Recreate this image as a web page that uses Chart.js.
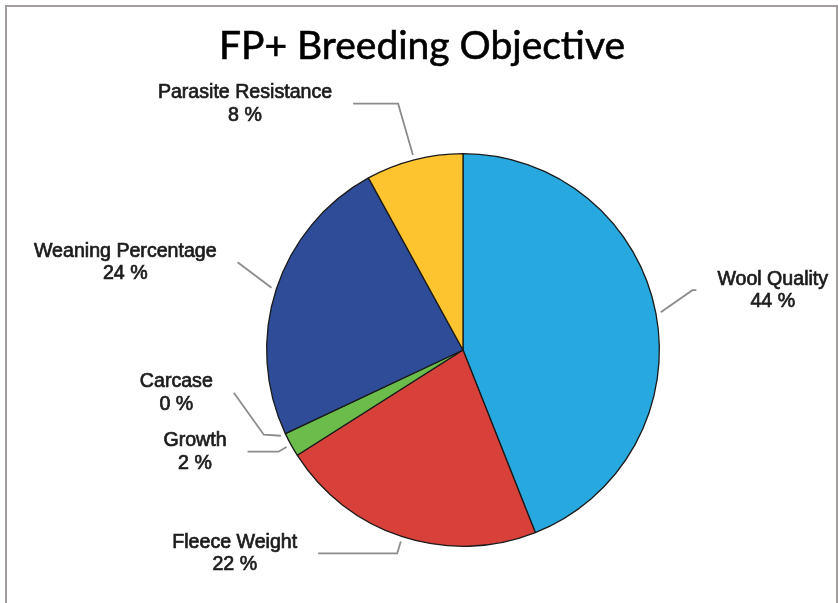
<!DOCTYPE html>
<html><head><meta charset="utf-8">
<script src="https://cdn.jsdelivr.net/npm/chart.js@4"></script>
<style>html,body{margin:0;padding:0;background:#fff}canvas{display:block}</style>
</head><body>
<canvas id="c" width="838" height="603"></canvas>
<script>
const chartTitle = 'FP+ Breeding Objective';
const categories = ['Wool Quality', 'Fleece Weight', 'Growth', 'Carcase', 'Weaning Percentage', 'Parasite Resistance'];
const shares = [44, 22, 2, 0, 24, 8];
const sliceColors = ['#27A8DF', '#D8413A', '#6BBC4A', '#8A8A8A', '#2E4C98', '#FDC42F'];

// leader-line layout: offsets (px) from the point just outside each slice's mid-edge
const leaderPaths = [
  [[31.6, -22.1], [35.6, -22.1]],
  [[-3.6, 11.9], [-82.6, 11.9]],
  [[-8, 4.7], [-39, 4.7]],
  [[-17, -1], [-47, -43]],
  [[-33.9, -25.6]],
  [[-14.8, -51.3], [-59.8, -51.3]]
];
const labelSide = ['right', 'left', 'left', 'left', 'left', 'left'];

const pieLabels = {
  id: 'pieLabels',
  beforeDraw(chart) {
    const ctx = chart.ctx;
    ctx.save();
    ctx.fillStyle = '#fff';
    ctx.fillRect(0, 0, chart.width, chart.height);
    ctx.strokeStyle = '#a39d9d';
    ctx.lineWidth = 2;
    ctx.beginPath();
    ctx.moveTo(6, chart.height);
    ctx.lineTo(6, 6);
    ctx.lineTo(837, 6);
    ctx.lineTo(837, chart.height);
    ctx.stroke();
    ctx.restore();
  },
  afterDatasetsDraw(chart) {
    const ctx = chart.ctx;
    const meta = chart.getDatasetMeta(0);
    ctx.save();
    ctx.font = '39px Lato';
    ctx.fillStyle = '#000';
    ctx.strokeStyle = '#000';
    ctx.lineWidth = 0.6;
    ctx.textAlign = 'center';
    ctx.textBaseline = 'middle';
    ctx.fillText(chartTitle, 422, 46);
    ctx.strokeText(chartTitle, 422, 46);
    meta.data.forEach((arc, i) => {
      const p = arc.getProps(['x', 'y', 'startAngle', 'endAngle', 'outerRadius'], true);
      const mid = (p.startAngle + p.endAngle) / 2;
      const r = p.outerRadius + 5;
      const sx = p.x + Math.cos(mid) * r, sy = p.y + Math.sin(mid) * r;
      ctx.strokeStyle = '#8c8c8c';
      ctx.lineWidth = 1.8;
      ctx.beginPath();
      ctx.moveTo(sx, sy);
      let ex = sx, ey = sy;
      leaderPaths[i].forEach(([dx, dy]) => { ex = sx + dx; ey = sy + dy; ctx.lineTo(ex, ey); });
      ctx.stroke();
      const lines = [categories[i], shares[i] + ' %'];
      ctx.font = '19.6px "Liberation Sans", Arial, sans-serif';
      const w = Math.max(...lines.map(t => ctx.measureText(t).width));
      const gap = 21;
      const cx = labelSide[i] === 'right' ? ex + gap + w / 2 : ex - gap - w / 2;
      ctx.fillStyle = '#1c1c1c';
      ctx.strokeStyle = '#1c1c1c';
      ctx.lineWidth = 0.7;
      ctx.textAlign = 'center';
      ctx.textBaseline = 'middle';
      ctx.fillText(lines[0], cx, ey - 11);
      ctx.strokeText(lines[0], cx, ey - 11);
      ctx.fillText(lines[1], cx, ey + 11.5);
      ctx.strokeText(lines[1], cx, ey + 11.5);
    });
    ctx.restore();
  }
};

new Chart(document.getElementById('c'), {
  type: 'pie',
  data: {
    labels: categories,
    datasets: [{
      data: shares,
      backgroundColor: sliceColors,
      borderColor: '#1a1a1a',
      borderWidth: 1.3
    }]
  },
  options: {
    responsive: false,
    animation: false,
    devicePixelRatio: 1,
    layout: { padding: { top: 153, bottom: 56, left: 266, right: 178 } },
    plugins: {
      legend: { display: false },
      title: { display: false },
      tooltip: { enabled: false }
    }
  },
  plugins: [pieLabels]
});
</script>
</body></html>
